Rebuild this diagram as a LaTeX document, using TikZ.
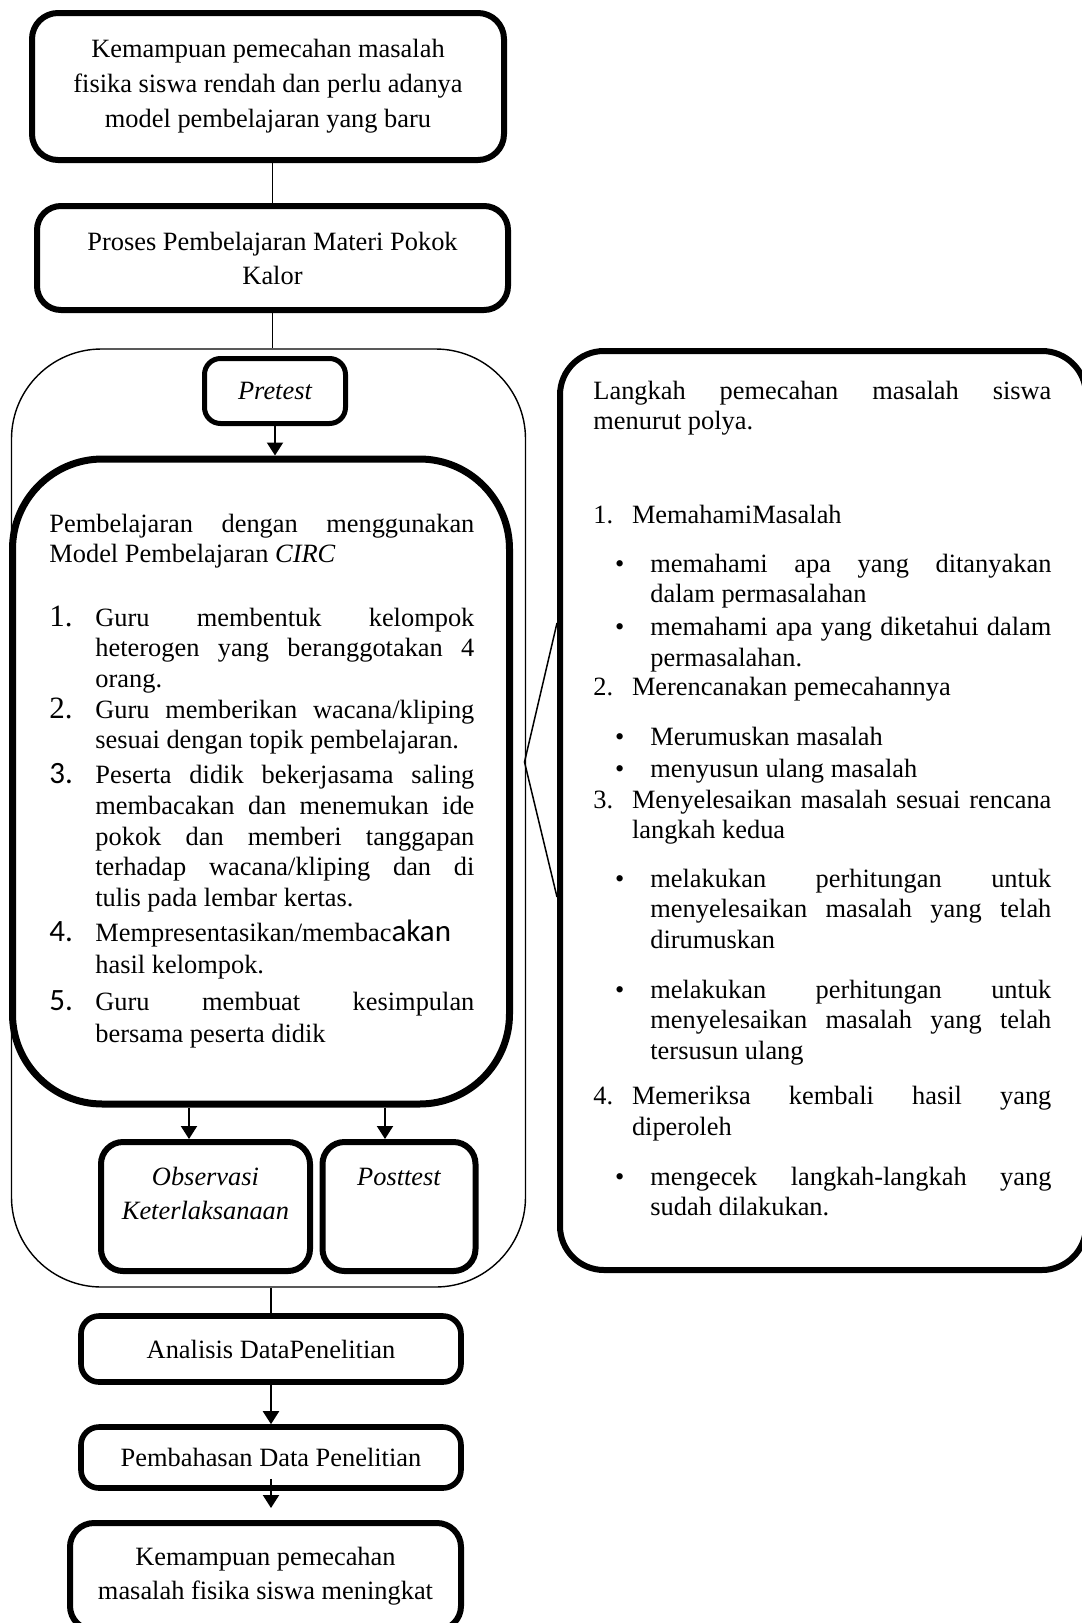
\documentclass[tikz,border=0pt]{standalone}
\usepackage{fontspec}
\setmainfont{Liberation Serif}
\newfontfamily\sansfig{Carlito}
\usetikzlibrary{arrows.meta}

% nomor dan butir daftar
\newcommand{\listitem}[3]{\hangindent=#1\hangafter=1\noindent\makebox[#1][l]{#2}#3\par}
\newcommand{\bignum}{\fontsize{15.5pt}{15pt}\selectfont}
\newcommand{\bigsans}{\sansfig\fontsize{15.5pt}{15pt}\selectfont}

\tikzset{
  >=latex,
  % kotak
  box/.style={draw,line width=3pt,rounded corners=12pt,align=center,inner sep=0pt,
    font={\fontsize{13.2pt}{17pt}\selectfont}},
  box thin/.style={draw,line width=0.7pt,rounded corners=45pt,inner sep=0pt},
  % isi kotak besar
  entry/.style={anchor=base west,inner sep=0pt,align=justify,
    font={\fontsize{13.2pt}{15.4pt}\selectfont\sloppy\hyphenpenalty=10000}},
  % garis
  link/.style={line width=0.8pt},
  link arrow/.style={line width=1pt,-{Triangle[length=6.5pt,width=8pt]}}
}

\begin{document}
\begin{tikzpicture}[x=0.5pt,y=-0.5pt]
  \useasboundingbox (0,0) rectangle (1082,1623);
  \clip (0,0) rectangle (1082,1623);
  % alur kiri
  \node[box,rounded corners=13pt,minimum width=236pt,minimum height=73.5pt,
    font={\fontsize{13.2pt}{17.5pt}\selectfont}] (problem) at (268,86.5)
    {Kemampuan pemecahan masalah\\fisika siswa rendah dan perlu adanya\\model pembelajaran yang baru};
  \node[box,minimum width=235.5pt,minimum height=52pt] (process) at (272.5,258)
    {Proses Pembelajaran Materi Pokok\\Kalor};
  \node[box thin,minimum width=257pt,minimum height=469pt] (phase) at (268.5,818) {};
  \node[box,line width=2.5pt,rounded corners=8pt,minimum width=70.5pt,minimum height=32.5pt,
    font={\fontsize{13.2pt}{17pt}\selectfont\itshape}] (pretest) at (275,391) {Pretest};
  \node[box,line width=3.5pt,rounded corners=45pt,minimum width=248.5pt,minimum height=322.5pt]
    (circ) at (261,781.5) {};
  \node[box,rounded corners=11pt,font={\fontsize{13.2pt}{17pt}\selectfont\itshape}] (obs) at (205.5,1206.5)
    {\parbox[c][64.5pt][t]{104.5pt}{\centering\vspace*{9.6pt}\strut Observasi\\Keterlaksanaan}};
  \node[box,rounded corners=11pt,font={\fontsize{13.2pt}{17pt}\selectfont\itshape}] (post) at (399,1206.5)
    {\parbox[c][64.5pt][t]{76.5pt}{\centering\vspace*{9.6pt}\strut Posttest}};
  \node[box,line width=2.8pt,rounded corners=9pt,minimum width=190pt,minimum height=33pt]
    (analysis) at (271,1349) {Analisis DataPenelitian};
  \node[box,line width=2.8pt,rounded corners=9pt,minimum width=190pt,minimum height=30.5pt]
    (discussion) at (271,1457.5) {Pembahasan Data Penelitian};
  \node[box,minimum width=195.5pt,minimum height=53.5pt] (result) at (265.5,1576.5)
    {Kemampuan pemecahan\\masalah fisika siswa meningkat};
  % langkah polya
  \node[box,rounded corners=22pt,minimum width=263pt,minimum height=459.5pt] (polya) at (823,810.5) {};

  % isi CIRC
  \node[entry,text width=212.5pt] (c0) at (49,532)
    {Pembelajaran dengan menggunakan\linebreak Model Pembelajaran \textit{CIRC}};
  \node[entry,text width=212.5pt] (c1) at (49,626)
    {\listitem{23pt}{\bignum 1.}{Guru membentuk kelompok\linebreak heterogen yang beranggotakan 4\linebreak orang.}};
  \node[entry,text width=212.5pt] (c2) at (49,718)
    {\listitem{23pt}{\bignum 2.}{Guru memberikan wacana/kliping\linebreak sesuai dengan topik pembelajaran.}};
  \node[entry,text width=212.5pt] (c3) at (49,783.5)
    {\listitem{23pt}{\bigsans 3.}{Peserta didik bekerjasama saling\linebreak membacakan dan menemukan ide\linebreak
     pokok dan memberi tanggapan\linebreak terhadap wacana/kliping dan di\linebreak tulis pada lembar kertas.}};
  \node[entry,text width=212.5pt] (c4) at (49,941)
    {\baselineskip=16pt\listitem{23pt}{\bigsans 4.}{Mempresentasikan/membac{\bigsans akan}\newline hasil kelompok.}};
  \node[entry,text width=212.5pt] (c5) at (49,1010)
    {\baselineskip=16pt\listitem{23pt}{\bigsans 5.}{Guru membuat kesimpulan\linebreak bersama peserta didik}};

  % isi polya
  \node[entry,text width=229pt] (p0) at (593,399)
    {Langkah pemecahan masalah siswa\linebreak menurut polya.};
  \node[entry,text width=229pt] (p1) at (593,523) {\listitem{19.3pt}{1.}{MemahamiMasalah}};
  \node[entry,text width=218.2pt] (p1a) at (614.6,572)
    {\listitem{17.7pt}{\textbullet}{memahami apa yang ditanyakan\linebreak dalam permasalahan}};
  \node[entry,text width=218.2pt] (p1b) at (614.6,635.5)
    {\listitem{17.7pt}{\textbullet}{memahami apa yang diketahui dalam\linebreak permasalahan.}};
  \node[entry,text width=229pt] (p2) at (593,695.5) {\listitem{19.3pt}{2.}{Merencanakan pemecahannya}};
  \node[entry,text width=218.2pt] (p2a) at (614.6,745) {\listitem{17.7pt}{\textbullet}{Merumuskan masalah}};
  \node[entry,text width=218.2pt] (p2b) at (614.6,777) {\listitem{17.7pt}{\textbullet}{menyusun ulang masalah}};
  \node[entry,text width=229pt] (p3) at (593,808)
    {\listitem{19.3pt}{3.}{Menyelesaikan masalah sesuai rencana\linebreak langkah kedua}};
  \node[entry,text width=218.2pt] (p3a) at (614.6,887)
    {\listitem{17.7pt}{\textbullet}{melakukan perhitungan untuk\linebreak menyelesaikan masalah yang telah\linebreak dirumuskan}};
  \node[entry,text width=218.2pt] (p3b) at (614.6,998)
    {\listitem{17.7pt}{\textbullet}{melakukan perhitungan untuk\linebreak menyelesaikan masalah yang telah\linebreak tersusun ulang}};
  \node[entry,text width=229pt] (p4) at (593,1104.5)
    {\listitem{19.3pt}{4.}{Memeriksa kembali hasil yang\linebreak diperoleh}};
  \node[entry,text width=218.2pt] (p4a) at (614.6,1185)
    {\listitem{17.7pt}{\textbullet}{mengecek langkah-langkah yang\linebreak sudah dilakukan.}};

  % garis penghubung
  \draw[link] (process.north) -- (process.north |- problem.south);
  \draw[link] (process.south) -- (process.south |- phase.north);
  \draw[link arrow] (pretest.south) -- (pretest.south |- circ.north);
  \draw[link arrow] ([xshift=-36pt]circ.south) -- ([xshift=-36pt]circ.south |- obs.north);
  \draw[link arrow] ([xshift=62pt]circ.south) -- ([xshift=62pt]circ.south |- post.north);
  \draw[link] (analysis.north) -- (analysis.north |- phase.south);
  \draw[link arrow] (analysis.south) -- (discussion.north);
  \draw[link arrow] ([yshift=6pt]discussion.south) -- ([yshift=6pt]discussion.south |- result.north);
  \coordinate (tip) at (524.5,762);
  \draw[line width=0.75pt] ([yshift=93.75pt]polya.west) -- (tip) -- ([yshift=-43.25pt]polya.west);
\end{tikzpicture}
\end{document}
